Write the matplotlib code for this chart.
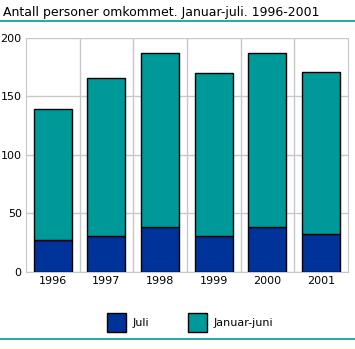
import matplotlib
matplotlib.use("Agg")
import matplotlib.pyplot as plt
from matplotlib.patches import Patch
from matplotlib.lines import Line2D

years = ["1996", "1997", "1998", "1999", "2000", "2001"]
juli = [27, 31, 38, 31, 38, 32]
januar_juni = [112, 135, 149, 139, 149, 139]

blue = "#003399"
teal = "#009999"

fig = plt.figure(figsize=(3.55, 3.49), dpi=100)
ax = fig.add_axes([0.073, 0.221, 0.907, 0.670])

x = range(len(years))
ax.bar(x, juli, width=0.71, color=blue, edgecolor="black", linewidth=1, zorder=3)
ax.bar(x, januar_juni, bottom=juli, width=0.71, color=teal, edgecolor="black",
       linewidth=1, zorder=3)

ax.set_xlim(-0.5, len(years) - 0.5)
ax.set_ylim(0, 200)
ax.set_yticks([0, 50, 100, 150, 200])
ax.set_xticks(list(x))
ax.set_xticklabels(years)
ax.set_xticks([i + 0.5 for i in range(len(years) - 1)], minor=True)
ax.tick_params(which="both", length=0, labelsize=8, pad=3)
ax.grid(True, axis="y", color="#c8c8c8", linewidth=1, zorder=0)
ax.grid(True, axis="x", which="minor", color="#c8c8c8", linewidth=1, zorder=0)
for s in ax.spines.values():
    s.set_color("#c8c8c8")
ax.spines["top"].set_visible(False)

fig.text(0.008, 0.963, "Antall personer omkommet. Januar-juli. 1996-2001",
         fontsize=9, va="center", ha="left")
fig.add_artist(Line2D([0, 1], [0.94, 0.94], color=teal, linewidth=1.2,
                      transform=fig.transFigure))
fig.add_artist(Line2D([0, 1], [0.028, 0.028], color=teal, linewidth=1.2,
                      transform=fig.transFigure))

handles = [Patch(facecolor=blue, edgecolor="black"),
           Patch(facecolor=teal, edgecolor="black")]
fig.legend(handles, ["Juli", "Januar-juni"], loc="center", ncol=2,
           bbox_to_anchor=(0.535, 0.075), frameon=False, fontsize=8,
           handlelength=1.7, handleheight=2.3, columnspacing=3.5, handletextpad=0.6)

fig.savefig("out.png", dpi=100)
